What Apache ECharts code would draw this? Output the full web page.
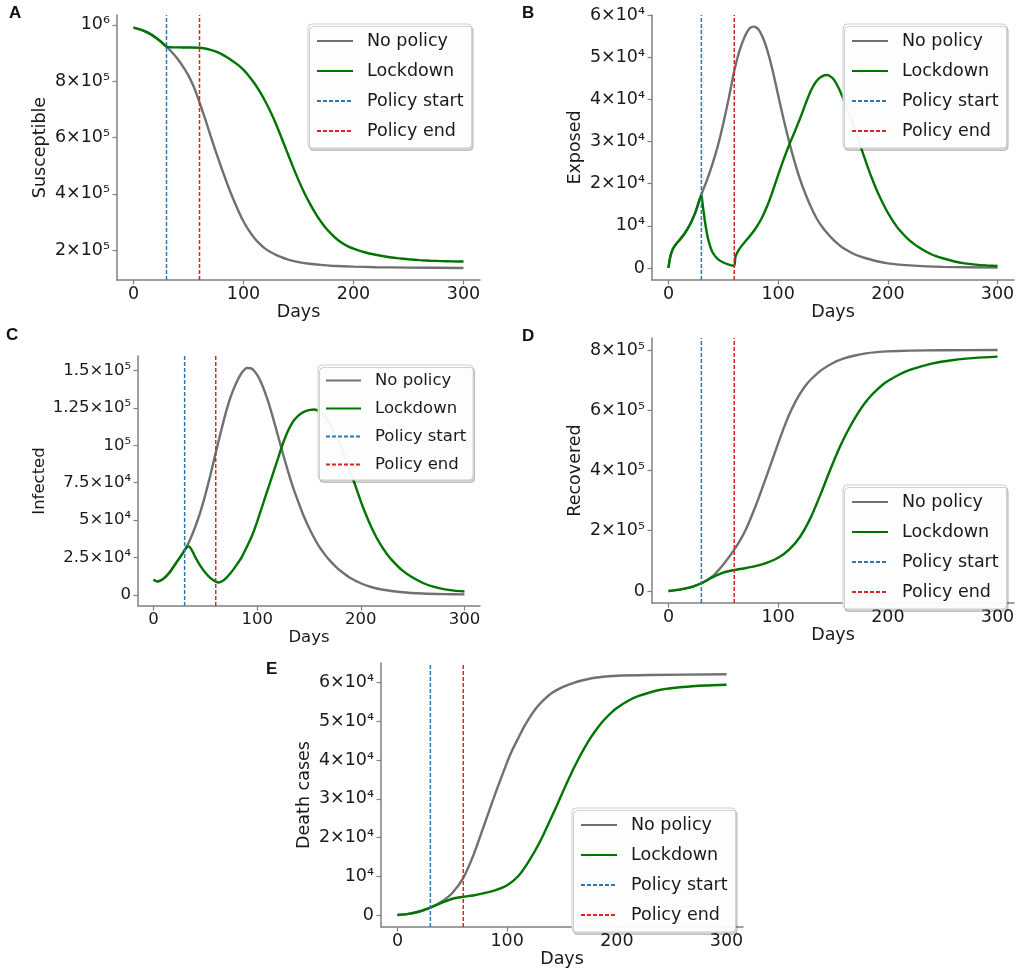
<!DOCTYPE html>
<html><head><meta charset="utf-8">
<script src="https://cdn.jsdelivr.net/npm/echarts@6/dist/echarts.min.js"></script>
<style>html,body{margin:0;padding:0;background:#fff}#c{width:1021px;height:976px}</style>
</head><body><div id="c"></div>
<script>
// ---------- data ----------
const xTicks = [0, 100, 200, 300];
const policyStartDay = 30;
const policyEndDay = 60;
const legendNames = ['No policy', 'Lockdown', 'Policy start', 'Policy end'];
const panelLetters = ['A', 'B', 'C', 'D', 'E'];
const yNames = ['Susceptible', 'Exposed', 'Infected', 'Recovered', 'Death cases'];

const yTicksA = [200000, 400000, 600000, 800000, 1000000];
const yLabelsA = ['2×10⁵', '4×10⁵', '6×10⁵', '8×10⁵', '10⁶'];
const yTicksB = [0, 10000, 20000, 30000, 40000, 50000, 60000];
const yLabelsB = ['0', '10⁴', '2×10⁴', '3×10⁴', '4×10⁴', '5×10⁴', '6×10⁴'];
const yTicksC = [0, 25000, 50000, 75000, 100000, 125000, 150000];
const yLabelsC = ['0', '2.5×10⁴', '5×10⁴', '7.5×10⁴', '10⁵', '1.25×10⁵', '1.5×10⁵'];
const yTicksD = [0, 200000, 400000, 600000, 800000];
const yLabelsD = ['0', '2×10⁵', '4×10⁵', '6×10⁵', '8×10⁵'];
const yTicksE = [0, 10000, 20000, 30000, 40000, 50000, 60000];
const yLabelsE = ['0', '10⁴', '2×10⁴', '3×10⁴', '4×10⁴', '5×10⁴', '6×10⁴'];

const yRangeA = [94500, 1035000];
const yRangeB = [-2860, 60060];
const yRangeC = [-7500, 159700];
const yRangeD = [-40000, 840000];
const yRangeE = [-3100, 65100];
const xRange = [-15, 315];

const susceptibleNoPolicy = [[0,990000],[5,985000],[10,978000],[15,968000],[20,955000],[25,940000],[30,923000],[35,903000],[40,880000],[45,852000],[50,820000],[55,778000],[60,725000],[65,668000],[70,607000],[75,548000],[80,492000],[85,438000],[90,388000],[95,343000],[100,302000],[105,270000],[110,243000],[115,222000],[120,205000],[125,193000],[130,183000],[135,175000],[140,168000],[145,162500],[150,158000],[160,152000],[170,148000],[180,145000],[200,142000],[220,140000],[250,138500],[300,137000]];
const susceptibleLockdown = [[0,990000],[5,985000],[10,978000],[15,968000],[20,955000],[25,940000],[30,923000],[32,921000],[35,920500],[40,920000],[50,919500],[60,919000],[65,916000],[70,911000],[75,905000],[80,896000],[85,885000],[90,872000],[95,858000],[100,840000],[105,818000],[110,792000],[115,762000],[120,727000],[125,688000],[130,644000],[135,595000],[140,545000],[145,496000],[150,449000],[155,406000],[160,368000],[165,334000],[170,304000],[175,278000],[180,257000],[185,239000],[190,225000],[195,214000],[200,206000],[210,193000],[220,184000],[230,177000],[240,172000],[250,168000],[260,165000],[270,163000],[280,161500],[290,160500],[300,160000]];

const exposedNoPolicy = [[0,0],[1,1800],[2,3000],[4,4500],[7,5700],[10,6600],[15,8300],[20,10500],[25,13500],[30,17400],[35,20800],[40,24600],[45,29000],[50,34300],[55,40300],[60,46800],[65,51800],[70,55200],[74,56900],[78,57300],[82,56700],[86,54700],[90,51800],[95,46900],[100,41000],[105,35300],[110,30000],[115,25200],[120,21000],[125,17500],[130,14400],[135,11800],[140,9800],[145,8200],[150,6800],[155,5600],[160,4600],[170,3200],[180,2300],[190,1600],[200,1100],[220,600],[250,250],[300,80]];
const exposedLockdown = [[0,0],[1,1800],[2,3000],[4,4500],[7,5700],[10,6600],[15,8300],[20,10500],[25,13500],[30,17400],[31,15500],[33,11500],[35,8300],[37,6000],[40,3800],[45,2100],[50,1300],[55,800],[60,500],[61,2600],[63,3800],[66,5000],[70,6300],[75,7800],[80,9600],[85,11800],[90,14700],[95,18200],[100,22100],[105,25800],[110,29200],[115,32300],[120,35500],[125,39000],[130,42200],[135,44400],[140,45500],[145,45800],[150,45000],[155,42800],[160,39800],[165,36400],[170,32800],[175,29000],[180,25200],[185,21600],[190,18400],[195,15600],[200,13100],[205,11000],[210,9200],[220,6500],[230,4600],[240,3200],[250,2300],[260,1600],[270,1100],[280,800],[290,600],[300,450]];

const infectedNoPolicy = [[0,10000],[3,9000],[6,9300],[10,11000],[15,14500],[20,19500],[25,24500],[30,29800],[35,36500],[40,45000],[45,55000],[50,67000],[55,80500],[60,95000],[65,109000],[70,122500],[75,133500],[80,142000],[85,148300],[90,151700],[95,151200],[100,147000],[105,140000],[110,130500],[115,119000],[120,106500],[125,94000],[130,82000],[135,71000],[140,61500],[145,52500],[150,44800],[155,38000],[160,32000],[165,27200],[170,23000],[175,19400],[180,16200],[190,11200],[200,7700],[210,5200],[220,3500],[240,1700],[260,850],[280,450],[300,300]];
const infectedLockdown = [[0,10000],[3,9000],[6,9300],[10,11000],[15,14500],[20,19500],[25,24500],[30,29800],[32,31800],[34,32300],[36,31000],[38,28500],[40,25500],[45,19500],[50,14800],[55,11200],[60,8800],[63,8200],[66,9000],[70,11200],[75,15000],[80,19800],[85,25000],[90,32000],[95,39500],[100,49000],[105,59500],[110,70000],[115,80500],[120,91000],[125,101500],[130,110000],[135,116200],[140,120000],[145,122300],[150,123500],[155,123900],[160,122700],[165,119500],[170,114500],[175,108000],[180,100500],[185,91500],[190,82000],[195,72500],[200,62500],[205,53500],[210,45500],[215,38500],[220,32500],[225,27500],[230,23200],[240,16300],[250,11500],[260,7900],[270,5400],[280,3800],[290,2800],[300,2200]];

const recoveredNoPolicy = [[0,0],[10,4500],[20,12000],[30,25500],[40,48000],[50,88000],[60,137000],[70,200000],[80,287000],[90,387000],[100,490000],[105,540000],[110,585000],[115,623000],[120,655000],[125,682000],[130,703000],[140,735000],[150,757000],[160,772000],[170,782000],[180,789000],[190,793000],[200,795500],[220,798000],[250,799500],[300,800000]];
const recoveredLockdown = [[0,0],[10,4500],[20,12000],[30,25500],[40,45000],[50,61000],[60,69500],[70,75500],[80,83000],[90,94000],[100,110000],[110,137000],[120,180000],[130,246000],[140,333000],[145,380000],[150,425000],[155,468000],[160,507000],[165,542000],[170,574000],[175,603000],[180,628000],[185,650000],[190,668000],[195,684000],[200,697000],[210,718000],[220,734000],[240,755000],[260,767000],[280,774000],[300,778000]];

const deathsNoPolicy = [[0,0],[10,300],[20,900],[30,1900],[40,3400],[50,5700],[60,9600],[70,16000],[80,24000],[90,32000],[100,39500],[105,42800],[110,45600],[115,48400],[120,50800],[125,52900],[130,54600],[140,57200],[150,58800],[160,59900],[170,60700],[180,61300],[200,61800],[230,62000],[300,62200]];
const deathsLockdown = [[0,0],[10,300],[20,900],[30,1900],[40,3100],[50,4200],[60,4700],[70,5100],[80,5700],[90,6500],[100,7700],[110,10000],[120,14000],[130,19000],[140,25000],[145,28100],[150,31300],[155,34500],[160,37500],[165,40300],[170,42900],[175,45300],[180,47400],[185,49300],[190,50900],[195,52300],[200,53500],[210,55300],[220,56600],[240,58200],[260,58900],[280,59300],[300,59500]];

// ---------- assembly ----------
const panelData = [
  {noPolicy: susceptibleNoPolicy, lockdown: susceptibleLockdown, yRange: yRangeA, yTicks: yTicksA, yLabels: yLabelsA},
  {noPolicy: exposedNoPolicy, lockdown: exposedLockdown, yRange: yRangeB, yTicks: yTicksB, yLabels: yLabelsB},
  {noPolicy: infectedNoPolicy, lockdown: infectedLockdown, yRange: yRangeC, yTicks: yTicksC, yLabels: yLabelsC},
  {noPolicy: recoveredNoPolicy, lockdown: recoveredLockdown, yRange: yRangeD, yTicks: yTicksD, yLabels: yLabelsD},
  {noPolicy: deathsNoPolicy, lockdown: deathsLockdown, yRange: yRangeE, yTicks: yTicksE, yLabels: yLabelsE}
];

// layout (positions / sizes)
const layout = [
  {grid:{left:117,top:15,width:363,height:265}, legend:{left:308,top:24}, letter:[16,14], fs:17.5, yGap:68, xGap:23, iw:36, gap:12, pad:8},
  {grid:{left:652,top:15,width:362,height:265}, legend:{left:843,top:24}, letter:[529,14], fs:17.5, yGap:68, xGap:23, iw:36, gap:12, pad:8},
  {grid:{left:138,top:356,width:342,height:250}, legend:{left:318,top:365}, letter:[13,336], fs:16.5, yGap:90, xGap:21, iw:35, gap:11, pad:7},
  {grid:{left:652,top:338,width:362,height:265}, legend:{left:843,top:485}, letter:[529,337], fs:17.5, yGap:68, xGap:23, iw:36, gap:12, pad:8},
  {grid:{left:381,top:663,width:362,height:264}, legend:{left:572,top:808}, letter:[273,670], fs:17.5, yGap:68, xGap:23, iw:36, gap:12, pad:8}
];

const FONT = 'DejaVu Sans';
const TXT = '#1a1a1a';
const AX = '#808080';
const C_NO = '#707070', C_LD = '#007400', C_ST = '#2b78b4', C_EN = '#d92424';

const grids = [], xAxes = [], yAxes = [], series = [], legends = [], graphics = [];
panelData.forEach((p, i) => {
  const L = layout[i];
  grids.push(Object.assign({containLabel:false}, L.grid));
  xAxes.push({
    type:'value', gridIndex:i, min:xRange[0], max:xRange[1],
    name:'Days', nameLocation:'middle', nameGap:L.xGap,
    nameTextStyle:{fontFamily:FONT, fontSize:L.fs, color:TXT},
    axisLine:{show:true, onZero:false, lineStyle:{color:AX, width:1.5}},
    axisTick:{show:true, length:4.5, customValues:xTicks, lineStyle:{color:AX, width:1.2}},
    axisLabel:{customValues:xTicks, margin:5, fontFamily:FONT, fontSize:L.fs, color:TXT},
    splitLine:{show:false}
  });
  yAxes.push({
    type:'value', gridIndex:i, min:p.yRange[0], max:p.yRange[1],
    name:yNames[i], nameLocation:'middle', nameGap:L.yGap,
    nameTextStyle:{fontFamily:FONT, fontSize:L.fs, color:TXT},
    axisLine:{show:true, onZero:false, lineStyle:{color:AX, width:1.5}},
    axisTick:{show:true, length:4.5, customValues:p.yTicks, lineStyle:{color:AX, width:1.2}},
    axisLabel:{customValues:p.yTicks, margin:7, fontFamily:FONT, fontSize:L.fs, color:TXT,
      formatter:(v)=>{const k=p.yTicks.indexOf(v); return k>=0?p.yLabels[k]:'';}},
    splitLine:{show:false}
  });
  const base = {type:'line', xAxisIndex:i, yAxisIndex:i, symbol:'none', showSymbol:false, animation:false, silent:true};
  series.push(Object.assign({}, base, {name:legendNames[0], data:p.noPolicy, smooth:0.2,
    lineStyle:{color:C_NO, width:2.4}, itemStyle:{color:C_NO}}));
  series.push(Object.assign({}, base, {name:legendNames[1], data:p.lockdown, smooth:0.2,
    lineStyle:{color:C_LD, width:2.4}, itemStyle:{color:C_LD}}));
  series.push(Object.assign({}, base, {name:legendNames[2], data:[[policyStartDay,p.yRange[0]],[policyStartDay,p.yRange[1]]],
    lineStyle:{color:C_ST, width:1.5, type:[4,2]}, itemStyle:{color:C_ST}}));
  series.push(Object.assign({}, base, {name:legendNames[3], data:[[policyEndDay,p.yRange[0]],[policyEndDay,p.yRange[1]]],
    lineStyle:{color:C_EN, width:1.5, type:[4,2]}, itemStyle:{color:C_EN}}));
  legends.push({
    data:legendNames, orient:'vertical', left:L.legend.left, top:L.legend.top,
    itemWidth:L.iw, itemHeight:14, itemGap:L.gap, padding:L.pad,
    selectedMode:false,
    itemStyle:{opacity:0},
    textStyle:{fontFamily:FONT, fontSize:L.fs, color:TXT, padding:[0,0,0,9]},
    backgroundColor:'rgba(255,255,255,0.95)', borderColor:'#cccccc', borderWidth:1, borderRadius:4,
    shadowColor:'rgba(0,0,0,0.18)', shadowBlur:0, shadowOffsetX:1.5, shadowOffsetY:2.5
  });
  graphics.push({type:'text', left:L.letter[0]-7, top:L.letter[1]-9,
    style:{text:panelLetters[i], font:'bold 17px "Liberation Sans", Arial, sans-serif', fill:'#111'}});
});

const chart = echarts.init(document.getElementById('c'), null, {renderer:'canvas'});
chart.setOption({
  animation:false,
  backgroundColor:'#ffffff',
  grid:grids, xAxis:xAxes, yAxis:yAxes, series:series, legend:legends, graphic:graphics
});
</script></body></html>
